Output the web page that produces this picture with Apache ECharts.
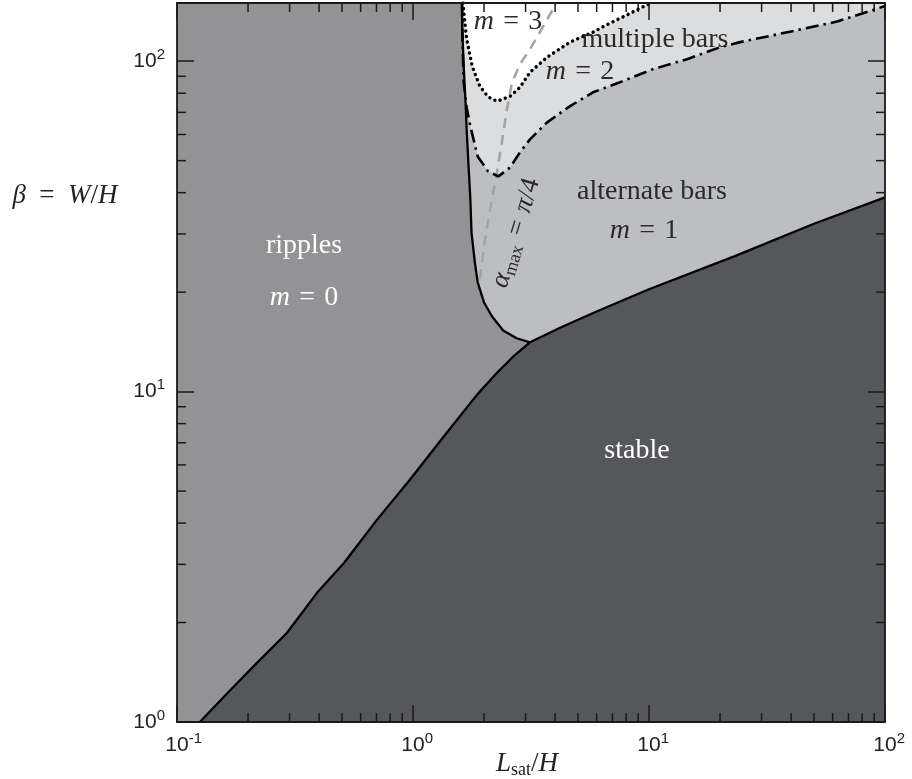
<!DOCTYPE html>
<html>
<head>
<meta charset="utf-8">
<script src="https://cdn.jsdelivr.net/npm/echarts@6/dist/echarts.min.js"></script>
<style>
  html, body { margin: 0; padding: 0; background: #ffffff; }
  #chart { width: 912px; height: 779px; }
</style>
</head>
<body>
<div id="chart"></div>
<script>
// Axis limits (log-log)
const X_MIN = 0.1, X_MAX = 100;
const Y_MIN = 1, Y_MAX = 150;

// Neutral stability curve: below it the bed is stable
const stableBoundary = [
  [0.125, 1.0], [0.163, 1.22], [0.218, 1.51], [0.292, 1.86], [0.392, 2.46],
  [0.51, 3.03], [0.703, 4.09], [0.97, 5.41], [1.35, 7.31], [1.87, 9.79],
  [2.27, 11.4], [2.7, 12.9], [3.13, 14.1], [4.2, 15.6], [6.03, 17.5],
  [10, 20.4], [23.1, 25.7], [50, 32.2], [100, 38.7]
];

// Onset of bars (m = 1): left branch from the top down to the junction
const barsOnset = [
  [1.61, 150], [1.62, 120], [1.64, 96.6], [1.67, 75], [1.69, 60.9],
  [1.72, 48], [1.75, 38.2], [1.77, 30.3], [1.83, 24.5], [1.88, 21.4],
  [2.0, 18.6], [2.16, 16.9], [2.41, 15.3], [2.75, 14.5], [3.13, 14.1]
];
const junctionX = 3.13;

// Onset of the m = 2 mode (dash-dot)
const m2Boundary = [
  [1.615, 150], [1.62, 120], [1.63, 100], [1.64, 86.4], [1.69, 72],
  [1.75, 63.5], [1.88, 51.5], [2.08, 46.4], [2.3, 44.8], [2.58, 47.7],
  [2.84, 53.0], [3.13, 58.0], [3.7, 65.3], [4.63, 73.1], [5.79, 80.5],
  [7.54, 86.4], [10.4, 94.6], [14.5, 101.4], [20, 110.2], [24.3, 114.2],
  [40, 123], [63.2, 132], [100, 146.8]
];

// Onset of the m = 3 mode (dotted)
const m3Boundary = [
  [1.63, 150], [1.66, 130], [1.69, 116.6], [1.78, 96.6], [1.92, 84.0],
  [2.08, 78], [2.27, 75.6], [2.58, 78.3], [2.84, 83.4], [3.13, 92.6],
  [3.7, 102.8], [4.63, 114.2], [5.79, 122.4], [6.5, 128], [7.9, 137],
  [9.7, 147.5], [10.2, 150]
];

// Contour alpha_max = pi/4 (grey dashed)
const alphaQuarterPi = [
  [1.92, 21.9], [2.04, 30.3], [2.16, 38.2], [2.27, 46.1], [2.38, 56.8],
  [2.5, 71.5], [2.63, 86.4], [2.84, 97.9], [3.13, 108.7], [3.45, 122.4],
  [3.92, 143.8], [4.05, 150]
];

// Minor tick values of the log axes
const xMinorTicks = [0.2, 0.3, 0.4, 0.5, 0.6, 0.7, 0.8, 0.9,
  2, 3, 4, 5, 6, 7, 8, 9, 20, 30, 40, 50, 60, 70, 80, 90];
const yMinorTicks = [2, 3, 4, 5, 6, 7, 8, 9, 20, 30, 40, 50, 60, 70, 80, 90];

// Region outlines built from the curves above
const ripplesRegion = [[X_MIN, Y_MIN], [X_MAX, Y_MIN], [X_MAX, Y_MAX], [X_MIN, Y_MAX]];
const stableRegion = [[X_MIN, Y_MIN]].concat(stableBoundary, [[X_MAX, Y_MIN]]);
const bars1Region = barsOnset.concat(
  stableBoundary.filter(p => p[0] > junctionX), [[X_MAX, Y_MAX]]);
const bars2Region = m2Boundary.concat([[X_MAX, Y_MAX]]);
const bars3Region = m3Boundary.slice();

const COLORS = {
  ripples: '#939396',
  stable: '#56575a',
  bars1: '#bdbec1',
  bars2: '#dcdddf',
  bars3: '#ffffff'
};

function regionSeries(points, color) {
  return {
    type: 'custom',
    coordinateSystem: 'cartesian2d',
    silent: true,
    clip: true,
    z: 1,
    data: [[1, 10]],
    renderItem: function (params, api) {
      return {
        type: 'polygon',
        shape: { points: points.map(p => api.coord(p)) },
        style: { fill: color, stroke: null }
      };
    }
  };
}

function curveSeries(points, lineStyle) {
  return {
    type: 'line',
    data: points,
    symbol: 'none',
    silent: true,
    z: 5,
    lineStyle: lineStyle
  };
}

const minorTickSeries = {
  type: 'custom',
  coordinateSystem: 'cartesian2d',
  silent: true,
  z: 8,
  data: [[1, 10]],
  renderItem: function (params, api) {
    const cs = params.coordSys;
    const len = 9;
    const st = { stroke: '#1a1a1a', lineWidth: 1.5 };
    const kids = [];
    xMinorTicks.forEach(v => {
      const px = api.coord([v, Y_MIN])[0];
      kids.push({ type: 'line', shape: { x1: px, y1: cs.y + cs.height, x2: px, y2: cs.y + cs.height - len }, style: st });
      kids.push({ type: 'line', shape: { x1: px, y1: cs.y, x2: px, y2: cs.y + len }, style: st });
    });
    yMinorTicks.forEach(v => {
      const py = api.coord([X_MIN, v])[1];
      kids.push({ type: 'line', shape: { x1: cs.x, y1: py, x2: cs.x + len, y2: py }, style: st });
      kids.push({ type: 'line', shape: { x1: cs.x + cs.width, y1: py, x2: cs.x + cs.width - len, y2: py }, style: st });
    });
    return { type: 'group', children: kids };
  }
};

const tickLabelRich = {
  b: { fontSize: 21, fontFamily: 'Liberation Sans', color: '#222' },
  s: { fontSize: 15, fontFamily: 'Liberation Sans', color: '#222', padding: [0, 0, 13, 0] },
  // invisible copy of the exponent, keeps the "10" centred under its tick
  h: { fontSize: 15, fontFamily: 'Liberation Sans', color: 'rgba(0,0,0,0)', padding: [0, 0, 13, 0] }
};
function powerLabel(v) {
  const e = Math.round(Math.log10(v));
  return '{b|10}{s|' + e + '}';
}
function powerLabelCentered(v) {
  const e = Math.round(Math.log10(v));
  return '{h|' + e + '}{b|10}{s|' + e + '}';
}

const axisCommon = {
  type: 'log',
  logBase: 10,
  z: 10,
  splitLine: { show: false },
  axisLine: { show: true, lineStyle: { color: '#1a1a1a', width: 1.8 } },
  axisTick: { show: true, inside: true, length: 17, lineStyle: { color: '#1a1a1a', width: 1.5 } },
  minorTick: { show: false }
};

const serif = 'Liberation Serif';
const darkText = '#2b2b2b';
function richMath(color, size) {
  return {
    i: { fontStyle: 'italic', fontFamily: serif, fontSize: size, fill: color, color: color },
    r: { fontFamily: serif, fontSize: size, fill: color, color: color },
    sub: { fontFamily: serif, fontSize: Math.round(size * 0.68), fill: color, color: color, padding: [13, 0, 0, 0] }
  };
}
function label(x, y, text, color, size, extra) {
  return Object.assign({
    type: 'text',
    x: x, y: y,
    z: 20,
    silent: true,
    style: {
      text: text,
      fill: color,
      fontFamily: serif,
      fontSize: size,
      align: 'center',
      verticalAlign: 'middle',
      rich: richMath(color, size)
    }
  }, extra || {});
}

const EQ = '\u2004=\u2004';
const EQ_WIDE = '\u2002=\u2002';

const chart = echarts.init(document.getElementById('chart'), null, { renderer: 'canvas' });
chart.setOption({
  animation: false,
  backgroundColor: '#ffffff',
  grid: { left: 177, right: 27, top: 3, bottom: 57, containLabel: false },
  xAxis: [
    Object.assign({}, axisCommon, {
      position: 'bottom', min: X_MIN, max: X_MAX,
      axisLabel: { show: true, margin: 9, formatter: powerLabelCentered, rich: tickLabelRich }
    }),
    Object.assign({}, axisCommon, {
      position: 'top', min: X_MIN, max: X_MAX,
      axisLabel: { show: false }
    })
  ],
  yAxis: [
    Object.assign({}, axisCommon, {
      position: 'left', min: Y_MIN, max: Y_MAX,
      axisLabel: { show: true, margin: 12, formatter: powerLabel, rich: tickLabelRich, showMaxLabel: false }
    }),
    Object.assign({}, axisCommon, {
      position: 'right', min: Y_MIN, max: Y_MAX,
      axisLabel: { show: false }
    })
  ],
  series: [
    regionSeries(ripplesRegion, COLORS.ripples),
    regionSeries(stableRegion, COLORS.stable),
    regionSeries(bars1Region, COLORS.bars1),
    regionSeries(bars2Region, COLORS.bars2),
    regionSeries(bars3Region, COLORS.bars3),
    curveSeries(alphaQuarterPi, { color: '#a3a3a5', width: 2.5, type: [10, 7] }),
    curveSeries(m3Boundary, { color: '#000', width: 3.4, type: [0.1, 5.5], cap: 'round' }),
    curveSeries(m2Boundary, { color: '#000', width: 2.6, type: [13, 5, 2.5, 5] }),
    curveSeries(barsOnset, { color: '#000', width: 2.3 }),
    curveSeries(stableBoundary, { color: '#000', width: 2.3 }),
    minorTickSeries
  ],
  graphic: [
    label(65, 196, '{i|β}' + EQ_WIDE + '{i|W}/{i|H}', '#222', 27),
    label(527, 764, '{i|L}{sub|sat}/{i|H}', '#222', 27),
    label(304, 246, 'ripples', '#ffffff', 28),
    label(304, 298, '{i|m}' + EQ + '0', '#ffffff', 28),
    label(652, 192, 'alternate bars', darkText, 28),
    label(644, 231, '{i|m}' + EQ + '1', darkText, 28),
    label(637, 451, 'stable', '#ffffff', 28),
    label(655, 40, 'multiple bars', darkText, 28),
    label(580, 72, '{i|m}' + EQ + '2', darkText, 28),
    label(508, 22, '{i|m}' + EQ + '3', darkText, 28),
    label(516, 233, '{i|α}{sub|max}' + EQ + '{i|π}/4', darkText, 27, { rotation: 73 * Math.PI / 180 })
  ]
});
</script>
</body>
</html>
